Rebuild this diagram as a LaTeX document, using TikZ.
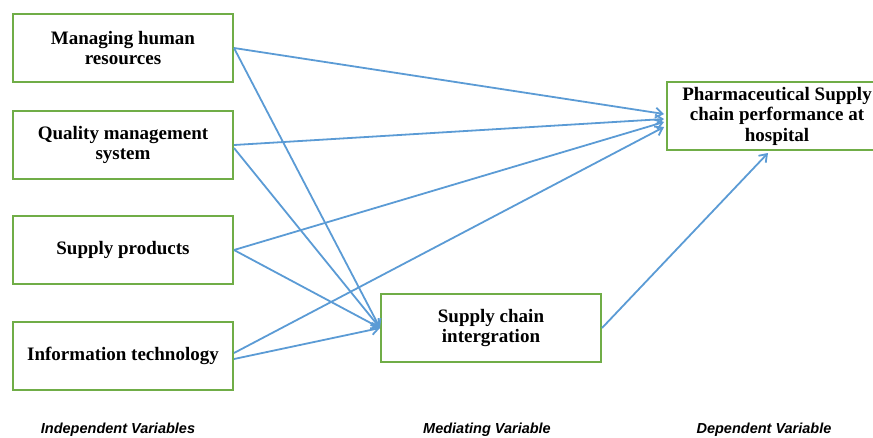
\documentclass[tikz,border=0pt]{standalone}
\usepackage{fontspec}
\setmainfont{Liberation Serif}
\newfontfamily\capfont{Liberation Sans}
\usetikzlibrary{arrows.meta,positioning}
\definecolor{boxgreen}{RGB}{112,173,71}
\definecolor{arrowblue}{RGB}{91,155,213}

\begin{document}
\begin{tikzpicture}[
  x=1pt, y=-1pt,
  font=\fontsize{19}{20.5}\selectfont\bfseries,
  >={Straight Barb[length=7pt, width=10pt]},
  var/.style={rectangle, draw=boxgreen, line width=2pt, fill=white,
              minimum width=220pt, minimum height=68pt, align=center, inner sep=2pt},
  link/.style={->, line width=1.8pt, draw=arrowblue},
  caption/.style={font=\capfont\fontsize{14.5}{16}\selectfont\bfseries\itshape},
]
\useasboundingbox (0,0) rectangle (873,437);

\node[var] (hr) at (123,48) {Managing human\\resources};
\node[var, below=27pt of hr]  (qms) {Quality management\\system};
\node[var, below=35pt of qms] (sp)  {Supply products};
\node[var, below=36pt of sp]  (it)  {Information technology};

\node[var] (sci) at (491,328) {Supply chain\\intergration};
\node[var] (psc) at (777,116) {Pharmaceutical Supply\\chain performance at\\hospital};

\node[caption] (indep) at (118,430) {Independent Variables};
\node[caption] (med)   at (487,430) {Mediating Variable};
\node[caption] (dep)   at (764,430) {Dependent Variable};

\draw[link] (hr.east)  -- ([xshift=-2pt, yshift=2pt]psc.west);
\draw[link] (qms.east) -- ([xshift=-2pt, yshift=-3pt]psc.west);
\draw[link] (sp.east)  -- ([xshift=-2pt, yshift=-6pt]psc.west);
\draw[link] ([yshift=3pt]it.east) -- ([xshift=-2pt, yshift=-11pt]psc.west);

\draw[link] (hr.east)  -- (sci.west);
\draw[link] ([yshift=-3pt]qms.east) -- (sci.west);
\draw[link] (sp.east)  -- (sci.west);
\draw[link] ([yshift=-3pt]it.east) -- (sci.west);

\draw[link] (sci.east) -- ([xshift=-9pt, yshift=-2pt]psc.south);

\end{tikzpicture}
\end{document}
